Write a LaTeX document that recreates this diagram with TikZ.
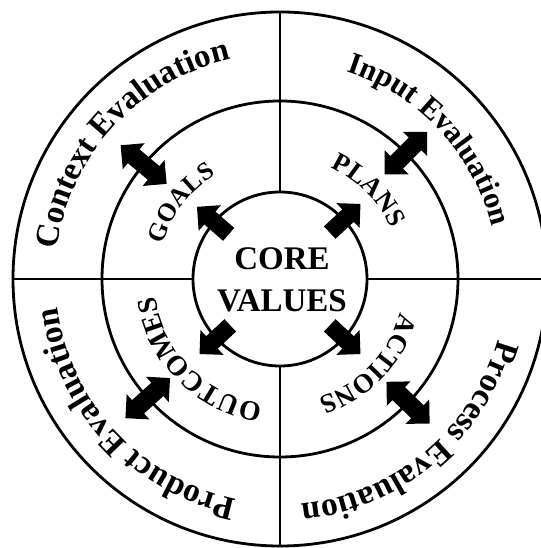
\documentclass[tikz,border=0pt]{standalone}
\usepackage{fontspec}
\setmainfont{Liberation Serif}
\usetikzlibrary{decorations.text}
\tikzset{
  ring/.style={line width=2.8pt},
  ringnode/.style={ring, draw, circle, inner sep=0pt, outer sep=0pt},
  dblarrow/.pic={\fill[black] (-30,0) -- (-13,17) -- (-13,9) -- (13,9) -- (13,17) -- (30,0) -- (13,-17) -- (13,-9) -- (-13,-9) -- (-13,-17) -- cycle;},
  outarrow/.pic={\fill[black] (-21,8.5) -- (4,8.5) -- (4,17) -- (21,0) -- (4,-17) -- (4,-8.5) -- (-21,-8.5) -- cycle;}
}
\newcommand\arclabel[4]{%
  \path[decorate,decoration={text along path,text align=center,
    text={|\fontsize{#3}{#3}\selectfont\bfseries|#4}}]
    ({#1+70}:#2pt) arc[start angle={#1+70},end angle={#1-70},radius=#2pt];}
\begin{document}
\begin{tikzpicture}[x=1pt,y=1pt]
\useasboundingbox[fill=white] (-280,-269) rectangle (260,279);
% rings
\node[ringnode, minimum size=534pt] (outer) at (0,0) {};
\node[ringnode, minimum size=356pt] (middle) at (0,0) {};
\node[ringnode, minimum size=174pt] (inner) at (0,0) {};
% dividing lines
\draw[ring] (inner.north) -- (outer.north);
\draw[ring] (inner.south) -- (outer.south);
\draw[ring] (inner.west) -- (outer.west);
\draw[ring] (inner.east) -- (outer.east);
% core text
\node[align=center, font=\fontsize{33}{42}\selectfont\bfseries] (core) at (2,-1) {CORE\\VALUES};
% arrows crossing middle ring
\pic[rotate=140] at (140:178pt) {dblarrow};
\pic[rotate=45] at (45:178pt) {dblarrow};
\pic[rotate=222] at (222:178pt) {dblarrow};
\pic[rotate=316] at (316:178pt) {dblarrow};
% arrows from core
\pic[rotate=139] at (139:89pt) {outarrow};
\pic[rotate=43] at (43:89pt) {outarrow};
\pic[rotate=223] at (223:89pt) {outarrow};
\pic[rotate=317] at (317:89pt) {outarrow};
% outer labels
\arclabel{137.5}{225}{33}{Context Evaluation}
\arclabel{43}{218}{30.5}{Input Evaluation}
\arclabel{-50}{226}{33.5}{Process Evaluation}
\arclabel{223}{224}{33.5}{Product Evaluation}
% middle labels
\arclabel{142.5}{122}{25.5}{GOALS}
\arclabel{45}{122}{26.5}{PLANS}
\arclabel{-43.8}{125}{27}{ACTIONS}
\arclabel{225}{126}{28}{OUTCOMES}
\end{tikzpicture}
\end{document}
